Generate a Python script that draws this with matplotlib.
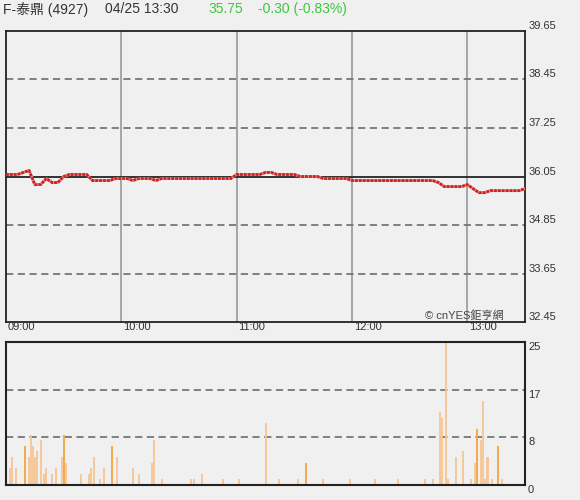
import numpy as np
import matplotlib
matplotlib.use("Agg")
import matplotlib.pyplot as plt

plt.rcParams['font.family'] = ['Liberation Sans', 'Noto Sans CJK TC', 'DejaVu Sans']

# price, sampled every 3 minutes from 09:00 to 13:30
price_minutes = list(range(0, 271, 3))
prices = [36.10, 36.10, 36.10, 36.15, 36.20, 35.85, 35.85, 36.00, 35.90, 35.90,
          36.05, 36.10, 36.10, 36.10, 36.10, 35.95, 35.95, 35.95, 35.95, 36.00,
          36.00, 36.00, 35.95, 36.00, 36.00, 36.00, 35.95, 36.00, 36.00, 36.00,
          36.00, 36.00, 36.00, 36.00, 36.00, 36.00, 36.00, 36.00, 36.00, 36.00,
          36.10, 36.10, 36.10, 36.10, 36.10, 36.15, 36.15, 36.10, 36.10, 36.10,
          36.10, 36.05, 36.05, 36.05, 36.05, 36.00, 36.00, 36.00, 36.00, 36.00,
          35.95, 35.95, 35.95, 35.95, 35.95, 35.95, 35.95, 35.95, 35.95, 35.95,
          35.95, 35.95, 35.95, 35.95, 35.95, 35.90, 35.80, 35.80, 35.80, 35.80,
          35.85, 35.75, 35.65, 35.65, 35.70, 35.70, 35.70, 35.70, 35.70, 35.70,
          35.75]
prev_close = 36.05

vol_minutes = [0, 2, 3, 5, 10, 12, 13, 14, 15, 16, 18, 20, 21, 24, 26, 29, 30, 31,
               39, 43, 44, 46, 49, 51, 55, 58, 66, 69, 76, 77, 81, 96, 98, 102,
               113, 121, 135, 142, 152, 156, 165, 179, 192, 204, 218, 222, 226,
               227, 229, 230, 234, 238, 242, 244, 245, 247, 248, 249, 250, 251,
               253, 256, 258, 270]
volumes = [2, 3, 5, 3, 7, 5, 9, 7, 5, 6, 8, 2, 3, 2, 3, 5, 9, 4,
           2, 2, 3, 5, 1, 3, 7, 5, 3, 2, 4, 8, 1, 1, 1, 2,
           1, 1, 11, 1, 1, 4, 1, 1, 1, 1, 1, 1, 13,
           12, 26, 1, 5, 6, 1, 4, 10, 8, 15, 1, 5, 5,
           1, 7, 1, 3]
vol_dark = [10, 30, 55, 156, 245, 256, 270]

price_ticks = [32.45, 33.65, 34.85, 36.05, 37.25, 38.45, 39.65]
vol_ticks = [0, 8.5, 17, 25.5]
vol_labels = ['0', '8', '17', '25']
hour_ticks = [0, 60, 120, 180, 240]
hour_labels = ['09:00', '10:00', '11:00', '12:00', '13:00']

bg = '#f0f0f0'
fig = plt.figure(figsize=(5.8, 5.0), dpi=100, facecolor=bg)
ax = fig.add_axes([6 / 580, 178 / 500, 519 / 580, 291 / 500], facecolor=bg)
ax2 = fig.add_axes([6 / 580, 15 / 500, 519 / 580, 143 / 500], facecolor=bg)

# price panel
ax.set_xlim(0, 270)
ax.set_ylim(price_ticks[0], price_ticks[-1])
for h in hour_ticks[1:]:
    ax.axvline(h, color='#999999', lw=1.2, zorder=1)
for p in price_ticks[1:-1]:
    if p == prev_close:
        ax.axhline(p, color='#222222', lw=1.3, zorder=2)
    else:
        ax.axhline(p, color='#777777', lw=1.3, ls=(0, (4, 2.5)), zorder=1)
ax.plot(price_minutes, prices, color='#e88a8a', lw=2.0, zorder=3)
ax.plot(price_minutes, prices, color='#cc2222', lw=2.0, ls=(0, (1.0, 0.4)), zorder=3)
ax.set_xticks([])
ax.set_yticks([])
for s in ax.spines.values():
    s.set_color('#222222')
    s.set_linewidth(1.3)
for p in price_ticks:
    ax.text(1.006, (p - price_ticks[0]) / (price_ticks[-1] - price_ticks[0]), f'{p:.2f}',
            transform=ax.transAxes, ha='left', va='bottom', fontsize=8, color='#333333')
for h, lab in zip(hour_ticks, hour_labels):
    ax.text(h + 1, price_ticks[0], lab, ha='left', va='top', fontsize=8,
            color='#333333', transform=ax.transData, clip_on=False,
            bbox=dict(facecolor='none', edgecolor='none', pad=2.5))
ax.text(0.96, 0.005, '© cnYES鉅亨網', transform=ax.transAxes, ha='right', va='bottom',
        fontsize=8, color='#444444', family=['Liberation Sans', 'Noto Sans CJK TC'])

# volume panel
ax2.set_xlim(0, 270)
ax2.set_ylim(0, vol_ticks[-1])
for v in vol_ticks[1:-1]:
    ax2.axhline(v, color='#777777', lw=1.3, ls=(0, (4, 2.5)), zorder=1)
colors = ['#f2a63c' if m in vol_dark else '#f7c594' for m in vol_minutes]
ax2.vlines(vol_minutes, 0, volumes, colors=colors, lw=1.3, zorder=2)
ax2.set_xticks([])
ax2.set_yticks([])
for s in ax2.spines.values():
    s.set_color('#222222')
    s.set_linewidth(1.5)
for v, lab in zip(vol_ticks, vol_labels):
    ax2.text(1.006, v / vol_ticks[-1], lab, transform=ax2.transAxes, ha='left', va='top',
             fontsize=8, color='#333333')

# header
fig.text(3 / 580, 1 - 9 / 500, 'F-泰鼎 (4927)', ha='left', va='center', fontsize=10, color='#333333')
fig.text(105 / 580, 1 - 9 / 500, '04/25 13:30', ha='left', va='center', fontsize=10, color='#333333')
fig.text(208 / 580, 1 - 9 / 500, '35.75', ha='left', va='center', fontsize=10, color='#3cc83c')
fig.text(258 / 580, 1 - 9 / 500, '-0.30 (-0.83%)', ha='left', va='center', fontsize=10, color='#3cc83c')

fig.savefig('out.png', dpi=100, facecolor=bg)
